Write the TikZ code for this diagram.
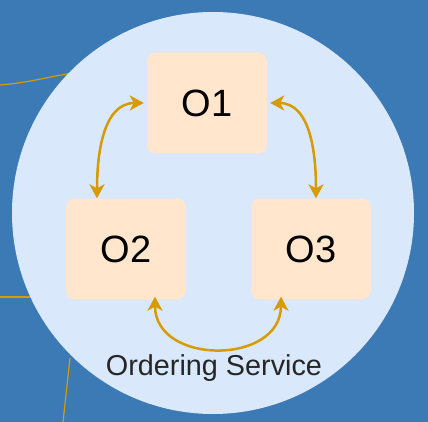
\documentclass[tikz,border=0pt]{standalone}
\usepackage{fontspec}
\setmainfont{Liberation Sans}
\usepackage{tikz}
\usetikzlibrary{arrows.meta}
\usetikzlibrary{positioning}
\tikzset{box/.style = {fill=peach, rounded corners=9, inner sep=0,
                       minimum width=120, minimum height=101,
                       font=\fontsize{38}{40}\selectfont}}
\tikzset{link/.style = {gold, line width=2.5,
                        {Stealth[length=14pt, width=15pt, inset=4pt]}-{Stealth[length=14pt, width=15pt, inset=4pt]}}}
\tikzset{wire/.style = {gold, line width=1.2}}
\definecolor{mblue}{RGB}{60, 122, 182}
\definecolor{lblue}{RGB}{218, 232, 252}
\definecolor{peach}{RGB}{255, 230, 204}
\definecolor{gold}{RGB}{215, 155, 0}

\begin{document}
\begin{tikzpicture}[x=1pt, y=-1pt]
      \fill [mblue] (0, 0) rectangle (428, 422);
      \useasboundingbox (0, 0) rectangle (428, 422);

      % loose ends from outside
      \coordinate (w1) at (0, 85);
      \coordinate (w2) at (0, 297);
      \coordinate (w3) at (63, 422);
      \draw [wire] (w1) to[out=5, in=190] (72, 73);
      \draw [wire] (w2) -- (30, 297);
      \draw [wire] (w3) -- (70, 358);

      \fill [lblue] (213, 213) circle [radius=201];

      \node [box] (O1) at (207, 103) {O1};
      \node [box] (O2) at (126, 249) {O2};
      \node [box] (O3) at (311, 249) {O3};

      \node [anchor=base, font=\fontsize{28.8}{30}\selectfont, text=black!85]
        (os) at (214, 375) {Ordering Service};

      \draw [link] ([xshift=-29]O2.north) to[out=90, in=180] ([xshift=-3]O1.west);
      \draw [link] ([xshift=3]O1.east) to[out=0, in=90] ([xshift=5]O3.north);
      \draw [link] ([xshift=29, yshift=3]O2.south) to[out=-90, in=-90, looseness=1.4]
                   ([xshift=-30, yshift=3]O3.south);
    \end{tikzpicture}
\end{document}
